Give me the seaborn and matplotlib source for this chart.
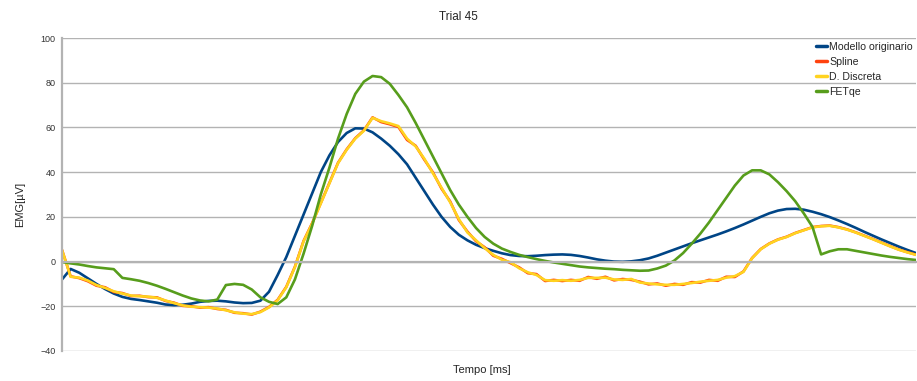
import numpy as np
import pandas as pd
import matplotlib
matplotlib.use("Agg")
import matplotlib.pyplot as plt
import seaborn as sns

# values (one point per category, 100 samples)
modello = [
    -8.0, -3.3, -5.0, -7.5, -10.0, -12.3, -14.3, -15.8, -16.7, -17.2,
    -17.8, -18.4, -19.2, -19.5, -19.3, -18.8, -18.0, -17.6, -17.5, -17.8,
    -18.3, -18.6, -18.5, -17.5, -13.5, -6.0, 2.0, 11.5, 21.0, 30.5,
    40.0, 47.5, 53.5, 57.5, 59.6, 59.5, 57.8, 55.0, 51.8, 48.0,
    43.5, 37.5, 31.5, 25.5, 20.0, 15.5, 12.0, 9.5, 7.5, 6.0,
    4.8, 3.7, 2.9, 2.5, 2.4, 2.6, 2.9, 3.1, 3.2, 3.0,
    2.5, 1.8, 1.0, 0.4, 0.0, -0.1, 0.1, 0.6, 1.4, 2.6,
    4.0, 5.4, 6.8, 8.2, 9.5, 10.8, 12.1, 13.5, 15.0, 16.6,
    18.3, 20.0, 21.6, 22.8, 23.5, 23.6, 23.2, 22.3, 21.2, 19.9,
    18.4, 16.8, 15.1, 13.3, 11.6, 9.9, 8.3, 6.7, 5.2, 3.8,
]
discreta = [
    5.2, -6.8, -7.2, -8.5, -10.5, -11.8, -13.3, -14.3, -15.2, -15.5,
    -15.7, -16.2, -17.4, -18.6, -19.6, -20.2, -20.4, -20.6, -21.0, -21.8,
    -22.7, -23.3, -23.5, -22.6, -20.5, -17.3, -11.5, -2.5, 9.0, 17.0,
    26.0, 35.0, 44.0, 50.0, 55.0, 58.5, 64.3, 62.8, 61.8, 60.6,
    55.0, 51.5, 46.0, 39.5, 33.0, 26.5, 19.0, 13.0, 9.5, 6.0,
    3.0, 0.8, -0.3, -3.0, -4.8, -6.0, -8.3, -8.6, -8.3, -8.6,
    -8.2, -7.3, -7.3, -7.2, -8.0, -8.2, -7.8, -9.4, -9.8, -10.2,
    -10.4, -10.4, -10.0, -9.6, -9.0, -8.6, -8.2, -7.2, -6.5, -4.6,
    1.5, 5.5, 8.0, 9.8, 11.0, 12.7, 14.0, 15.3, 15.8, 16.0,
    15.3, 14.3, 13.0, 11.5, 10.0, 8.4, 6.8, 5.3, 4.1, 3.0,
]
spline = [
    5.2, -6.6, -7.4, -8.8, -10.8, -11.5, -13.6, -14.1, -15.4, -15.3,
    -15.9, -16.0, -17.6, -18.4, -19.8, -20.0, -20.6, -20.4, -21.2, -21.6,
    -22.9, -23.1, -23.7, -22.4, -20.3, -17.1, -11.3, -2.3, 9.2, 17.2,
    26.2, 35.2, 44.2, 50.2, 55.2, 58.7, 64.5, 62.4, 61.4, 60.2,
    54.4, 51.8, 45.6, 39.9, 32.6, 26.9, 18.6, 13.4, 9.1, 6.4,
    2.6, 1.2, -0.7, -2.6, -5.2, -5.6, -8.7, -8.2, -8.7, -8.2,
    -8.6, -6.9, -7.7, -6.8, -8.4, -7.8, -8.2, -9.0, -10.2, -9.8,
    -10.8, -10.0, -10.4, -9.2, -9.4, -8.2, -8.6, -6.8, -6.9, -4.4,
    1.6, 5.6, 8.1, 9.9, 11.1, 12.8, 14.1, 15.4, 15.9, 16.1,
    15.4, 14.4, 13.1, 11.6, 10.1, 8.5, 6.9, 5.4, 4.2, 3.1,
]
fetqe = [
    -0.2, -0.8, -1.3, -2.0, -2.6, -3.0, -3.4, -7.3, -7.9, -8.6,
    -9.6, -10.8, -12.2, -13.7, -15.2, -16.5, -17.4, -17.8, -17.0, -10.5,
    -10.0, -10.4, -12.5, -16.0, -18.0, -19.0, -16.0, -8.0, 3.5, 16.0,
    30.0, 42.0, 55.0, 66.0, 75.0, 80.5, 83.0, 82.5, 79.5, 74.5,
    69.0, 62.0, 54.5, 47.0, 39.5, 32.0, 25.5, 20.0, 15.0, 11.0,
    8.0, 5.8, 4.3, 3.0, 2.0, 1.1, 0.3, -0.4, -1.0, -1.6,
    -2.2, -2.6, -2.9, -3.2, -3.4, -3.7, -3.9, -4.1, -4.0, -3.1,
    -1.8, 0.5, 3.8, 8.0, 12.5, 17.5, 23.0, 28.5, 34.0, 38.5,
    40.8, 40.8, 39.0, 35.5, 31.5, 27.0, 21.5, 15.5, 3.2, 4.6,
    5.5, 5.5, 4.8, 4.1, 3.4, 2.7, 2.1, 1.6, 1.1, 0.7,
]

series = {
    "Modello originario": (modello, "#004586"),
    "Spline": (spline, "#ff420e"),
    "D. Discreta": (discreta, "#ffd320"),
    "FETqe": (fetqe, "#579d1c"),
}

sns.set_style("white")
plt.rcParams["font.family"] = ["Liberation Sans", "DejaVu Sans"]

fig = plt.figure(figsize=(9.17, 3.81), dpi=100)
ax = fig.add_axes([62 / 917, 1 - 351 / 381, 854 / 917, 313 / 381])

for name, (vals, col) in series.items():
    df = pd.DataFrame({"t": np.arange(len(vals)), "v": vals})
    sns.lineplot(data=df, x="t", y="v", color=col, linewidth=1.9, label=name, ax=ax)

grid_col = "#b3b3b3"
ax.set_xlim(0, len(modello) - 1)
ax.set_ylim(-40, 100)
ax.set_yticks(range(-40, 101, 20))
ax.yaxis.grid(True, color=grid_col, linewidth=1.0)
ax.set_axisbelow(True)

ax.set_xticks(np.arange(len(modello)))
ax.set_xticklabels([])
ax.spines["bottom"].set_position(("data", 0))
ax.spines["bottom"].set_color(grid_col)
ax.spines["bottom"].set_linewidth(1.6)
ax.spines["left"].set_color(grid_col)
ax.spines["left"].set_linewidth(1.6)
ax.spines["top"].set_visible(False)
ax.spines["right"].set_visible(False)
ax.tick_params(axis="x", direction="out", length=3, width=0.8, color=grid_col)
ax.tick_params(axis="y", direction="out", length=3, width=0.8, color=grid_col,
               labelsize=6.5, labelcolor="#333333", pad=1.5)

ax.set_xlabel("")
ax.set_ylabel("")
fig.text(0.5, 0.955, "Trial 45", ha="center", va="center", fontsize=8.5)
fig.text(482 / 917, 1 - 370 / 381, "Tempo [ms]", ha="center", va="center", fontsize=8)
fig.text(20 / 917, 1 - 204 / 381, "EMG[µV]", ha="center", va="center",
         rotation=90, fontsize=8)

leg = ax.legend(loc="upper right", bbox_to_anchor=(1.005, 1.012), frameon=False,
                fontsize=7.6, handlelength=1.1, handletextpad=0.2,
                labelspacing=0.48, borderaxespad=0.3)
for line in leg.get_lines():
    line.set_linewidth(2.5)

fig.savefig("out.png", dpi=100)
